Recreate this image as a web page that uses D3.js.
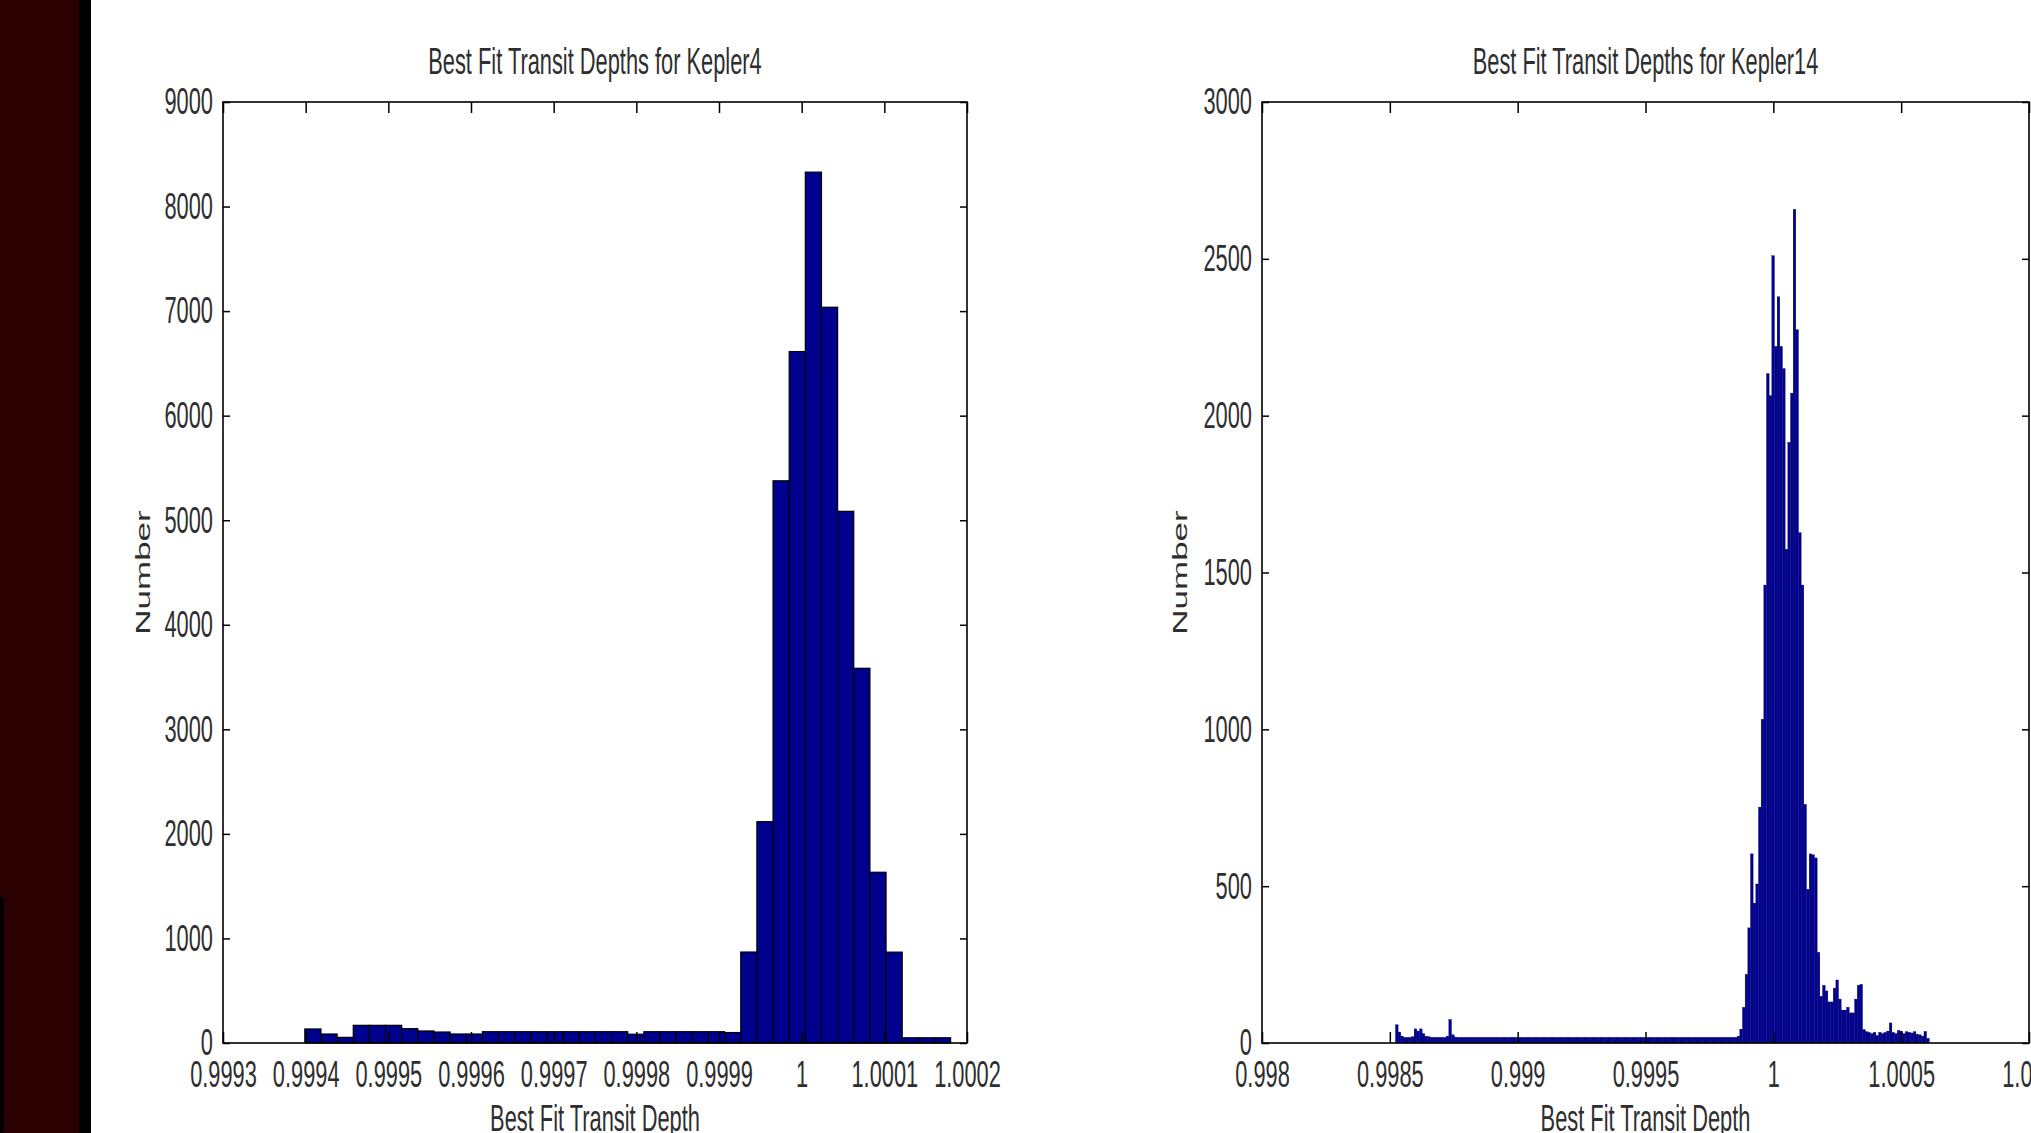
<!DOCTYPE html>
<html>
<head>
<meta charset="utf-8">
<script src="https://cdn.jsdelivr.net/npm/d3@7"></script>
<style>
  body { margin: 0; background: #fff; overflow: hidden; }
  text { font-family: "Liberation Sans", Arial, sans-serif; fill: #2e2e2e; }
</style>
</head>
<body>
<div id="main"></div>
<script>
// Kepler4: 40 bins
const k4BinStart = 0.999399;
const k4BinWidth = 0.00001953;
const k4Counts = [
    134, 86, 54, 169, 169, 169, 137, 115, 105, 86,
    86, 108, 108, 108, 108, 108, 108, 108, 108, 108,
    84, 108, 108, 108, 108, 108, 100, 870, 2117, 5377,
    6613, 8329, 7037, 5085, 3584, 1633, 869, 50, 50, 50
];
const k4XTicks = [0.9993, 0.9994, 0.9995, 0.9996, 0.9997, 0.9998, 0.9999, 1, 1.0001, 1.0002];
const k4XLabels = ["0.9993", "0.9994", "0.9995", "0.9996", "0.9997", "0.9998", "0.9999", "1", "1.0001", "1.0002"];
const k4YTicks = [0, 1000, 2000, 3000, 4000, 5000, 6000, 7000, 8000, 9000];

// Kepler14: 200 bins
const k14BinStart = 0.998522;
const k14BinWidth = 0.00001044;
const k14Counts = [
    58, 35, 22, 18, 18, 18, 20, 45, 38, 45, 30, 22, 20, 18, 18, 18, 18, 18, 18, 22,
    75, 26, 19, 18, 18, 18, 18, 18, 18, 18, 18, 18, 18, 18, 18, 18, 18, 18, 18, 18,
    18, 18, 18, 18, 18, 18, 18, 18, 18, 18, 18, 18, 18, 18, 18, 18, 18, 18, 18, 18,
    18, 18, 18, 18, 18, 18, 18, 18, 18, 18, 18, 18, 18, 18, 18, 18, 18, 18, 18, 18,
    18, 18, 18, 18, 18, 18, 18, 18, 18, 18, 18, 18, 18, 18, 18, 18, 18, 18, 18, 18,
    18, 18, 18, 18, 18, 18, 18, 18, 18, 18, 18, 18, 18, 18, 18, 18, 18, 18, 18, 18,
    18, 18, 18, 18, 18, 18, 18, 18, 22, 44, 114, 219, 367, 603, 446, 507, 752, 1032, 1460, 2134,
    2064, 2510, 2221, 2379, 2221, 2150, 1574, 1915, 2072, 2658, 2274, 1627, 1460, 761, 490, 603,
    600, 590, 289, 149, 184, 166, 131, 131, 175, 201, 140, 105, 105, 114, 96, 96, 140, 184, 187, 43,
    36, 34, 30, 34, 24, 34, 30, 34, 38, 64, 34, 30, 40, 38, 30, 36, 34, 32, 36, 28,
    26, 22, 37, 15
];
const k14XTicks = [0.998, 0.9985, 0.999, 0.9995, 1, 1.0005, 1.001];
const k14XLabels = ["0.998", "0.9985", "0.999", "0.9995", "1", "1.0005", "1.001"];
const k14YTicks = [0, 500, 1000, 1500, 2000, 2500, 3000];

const width = 2031, height = 1133;
const fontSize = 37, squeeze = 0.59;

let svg = d3.select("#main").append("svg")
    .attr("width", width)
    .attr("height", height);

svg.append("rect").attr("width", width).attr("height", height).attr("fill", "#fff");
// dark frame on the left
svg.append("rect").attr("x", 0).attr("y", 0).attr("width", 79).attr("height", height).attr("fill", "#2a0000");
svg.append("rect").attr("x", 79).attr("y", 0).attr("width", 12).attr("height", height).attr("fill", "#000");
svg.append("rect").attr("x", -3).attr("y", 897).attr("width", 7).attr("height", height - 897).attr("rx", 3).attr("fill", "#000");

function squeezedText(g, x, y, str) {
    return g.append("text")
        .attr("transform", `translate(${x},${y}) scale(${squeeze},1)`)
        .attr("text-anchor", "middle")
        .attr("font-size", fontSize)
        .text(str);
}

function panel(p) {
    const x = d3.scaleLinear().domain(p.xDomain).range([p.x0, p.x1]);
    const y = d3.scaleLinear().domain(p.yDomain).range([p.y1, p.y0]);
    const g = svg.append("g");

    const bins = p.counts.map((c, i) => ({
        lo: p.binStart + i * p.binWidth,
        hi: p.binStart + (i + 1) * p.binWidth,
        c: c
    }));

    g.append("g")
        .attr("fill", p.fill)
        .attr("stroke", p.stroke)
        .attr("stroke-width", p.strokeWidth)
        .selectAll("rect")
        .data(bins)
        .join("rect")
        .attr("x", d => x(d.lo))
        .attr("width", d => x(d.hi) - x(d.lo))
        .attr("y", d => y(d.c))
        .attr("height", d => y(0) - y(d.c));

    const fixTicks = a => {
        a.select(".domain").remove();
        a.selectAll(".tick line").attr("stroke", "#000").attr("stroke-width", 1.5);
        a.attr("font-size", fontSize).attr("font-family", null);
    };

    // bottom axis with labels
    g.append("g")
        .attr("transform", `translate(0,${p.y1})`)
        .call(d3.axisBottom(x).tickValues(p.xTicks).tickFormat((d, i) => p.xLabels[i])
            .tickSizeInner(-11).tickSizeOuter(0).tickPadding(18))
        .call(fixTicks)
        .selectAll("text")
        .attr("transform", `scale(${squeeze},1)`);

    // left axis with labels
    g.append("g")
        .attr("transform", `translate(${p.x0},0)`)
        .call(d3.axisLeft(y).tickValues(p.yTicks).tickFormat(d3.format("d"))
            .tickSizeInner(-7).tickSizeOuter(0).tickPadding(10))
        .call(fixTicks)
        .selectAll("text")
        .attr("x", -10 / squeeze)
        .attr("transform", `scale(${squeeze},1)`);

    // mirrored ticks on top and right
    g.append("g")
        .attr("transform", `translate(0,${p.y0})`)
        .call(d3.axisTop(x).tickValues(p.xTicks).tickFormat("").tickSizeInner(-11).tickSizeOuter(0))
        .call(fixTicks);
    g.append("g")
        .attr("transform", `translate(${p.x1},0)`)
        .call(d3.axisRight(y).tickValues(p.yTicks).tickFormat("").tickSizeInner(-7).tickSizeOuter(0))
        .call(fixTicks);

    g.append("rect")
        .attr("x", p.x0).attr("y", p.y0)
        .attr("width", p.x1 - p.x0).attr("height", p.y1 - p.y0)
        .attr("fill", "none").attr("stroke", "#000").attr("stroke-width", 1.6);

    const cx = (p.x0 + p.x1) / 2;
    squeezedText(g, cx, 74, p.title);
    squeezedText(g, cx, 1131, "Best Fit Transit Depth");

    g.append("text")
        .attr("transform", `translate(${p.yLabelX},${(p.y0 + p.y1) / 2}) rotate(-90) scale(1,0.6)`)
        .attr("text-anchor", "middle")
        .attr("font-size", 35)
        .text("Number");
}

panel({
    x0: 223, x1: 967, y0: 102, y1: 1043,
    xDomain: [0.9993, 1.0002], yDomain: [0, 9000],
    counts: k4Counts, binStart: k4BinStart, binWidth: k4BinWidth,
    xTicks: k4XTicks, xLabels: k4XLabels, yTicks: k4YTicks,
    title: "Best Fit Transit Depths for Kepler4",
    yLabelX: 150,
    fill: "#00008f", stroke: "#000", strokeWidth: 1.2
});

panel({
    x0: 1262, x1: 2029, y0: 102, y1: 1043,
    xDomain: [0.998, 1.001], yDomain: [0, 3000],
    counts: k14Counts, binStart: k14BinStart, binWidth: k14BinWidth,
    xTicks: k14XTicks, xLabels: k14XLabels, yTicks: k14YTicks,
    title: "Best Fit Transit Depths for Kepler14",
    yLabelX: 1187,
    fill: "#000096", stroke: "#000040", strokeWidth: 0.3
});
</script>
</body>
</html>
